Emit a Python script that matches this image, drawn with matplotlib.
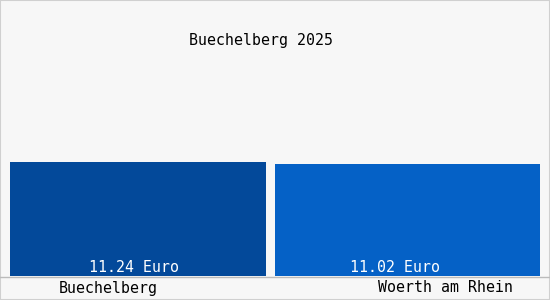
import matplotlib
matplotlib.use("Agg")
import matplotlib.pyplot as plt
from matplotlib.lines import Line2D
from matplotlib.patches import Rectangle

categories = ["Buechelberg", "Woerth am Rhein"]
values = [11.24, 11.02]
value_labels = ["11.24 Euro", "11.02 Euro"]
title = "Buechelberg 2025"
colors = ["#03499a", "#0561c6"]

W, H = 550, 300
fig = plt.figure(figsize=(W / 100, H / 100), dpi=100)
fig.patch.set_facecolor("#f7f7f7")
font = "DejaVu Sans Mono"
fs = 10.7

# axes: x from 10 to 540 px, y from baseline 276 px up to 20 px
ax = fig.add_axes([10 / W, 1 - 276 / H, 530 / W, (276 - 20) / H])
ax.set_facecolor("#f7f7f7")
ymax = values[0] * (276 - 20) / (276 - 162)
ax.set_ylim(0, ymax)
ax.set_xlim(0, 530)
lefts = [0, 265]
widths = [256, 265]
label_shift = [-4, -12]
bars = ax.bar(lefts, values, width=widths, align="edge", color=colors)
for b, lab, dx in zip(bars, value_labels, label_shift):
    ax.text(b.get_x() + b.get_width() / 2 + dx, 0.05, lab, ha="center", va="bottom",
            color="white", fontsize=fs, family=font)
for s in ax.spines.values():
    s.set_visible(False)
ax.set_xticks([])
ax.set_yticks([])

fig.text(261 / W, 1 - 40 / H, title, ha="center", va="center", fontsize=fs, family=font)
fig.text(108 / W, 1 - 288 / H, categories[0], ha="center", va="center", fontsize=fs, family=font)
fig.text(446 / W, 1 - 288 / H, categories[1], ha="center", va="center", fontsize=fs, family=font)

fig.add_artist(Line2D([0, 1], [1 - 276.5 / H] * 2, color="#bbbbbb", lw=1, transform=fig.transFigure))
fig.add_artist(Rectangle((0, 0), 1, 1, fill=False, edgecolor="#d0d0d0", lw=1.5, transform=fig.transFigure))

fig.savefig("out.png", dpi=100, facecolor=fig.get_facecolor())
